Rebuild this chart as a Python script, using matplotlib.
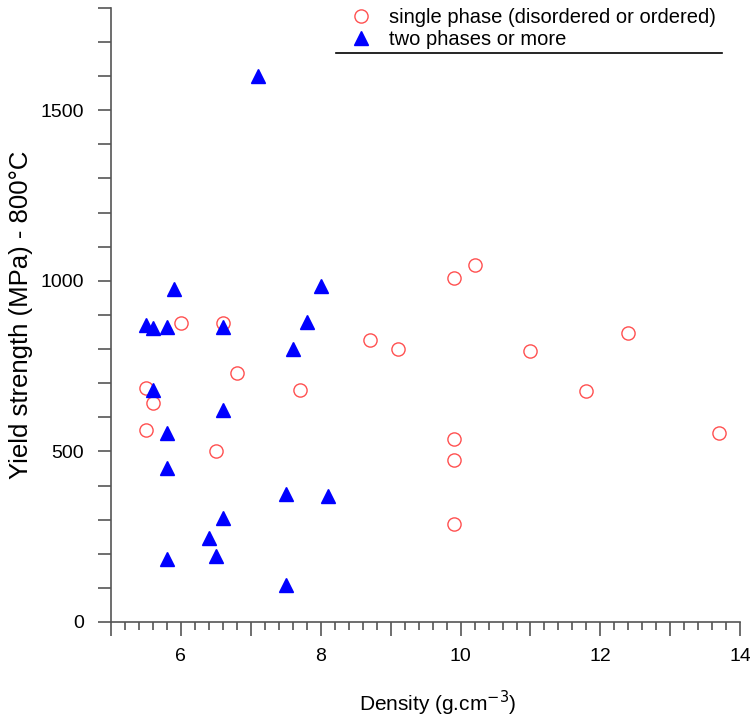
import numpy as np
import matplotlib
matplotlib.use("Agg")
from matplotlib import pyplot as plt
from matplotlib.lines import Line2D
from matplotlib.ticker import MultipleLocator, FuncFormatter

plt.rcParams['font.family'] = ['Liberation Sans', 'DejaVu Sans']

# single phase alloys (open red circles)
single_density = [6.0, 6.6, 6.8, 5.5, 7.7, 5.6, 5.5, 6.5, 10.2, 9.9, 12.4, 8.7,
                  9.1, 11.0, 11.8, 13.7, 9.9, 9.9, 9.9]
single_yield = [877, 877, 730, 687, 680, 641, 562, 500, 1045, 1008, 848, 826,
                799, 793, 676, 554, 536, 476, 286]

# two phases or more (filled blue triangles)
multi_density = [7.1, 5.9, 8.0, 5.5, 5.6, 5.8, 6.6, 7.8, 7.6, 5.6, 6.6, 5.8,
                 5.8, 7.5, 8.1, 6.6, 6.4, 6.5, 5.8, 7.5]
multi_yield = [1600, 975, 985, 870, 862, 865, 865, 880, 800, 680, 620, 555,
               450, 375, 368, 305, 245, 192, 185, 108]

fig = plt.figure(figsize=(7.5, 7.17), dpi=100)
ax = fig.add_axes([0.148, 0.1325, 0.839, 0.8565])

ax.plot(single_density, single_yield, linestyle="none", marker="o", markersize=9.5,
        markerfacecolor="none", markeredgecolor="#ff5050", markeredgewidth=1.0,
        label="single phase (disordered or ordered)")
ax.plot(multi_density, multi_yield, linestyle="none", marker="^", markersize=10.5,
        color="#0000ff", label="two phases or more")

ax.set_xlim(5, 14)
ax.set_ylim(0, 1800)

for side in ("top", "right"):
    ax.spines[side].set_visible(False)
for side in ("left", "bottom"):
    ax.spines[side].set_color("#555555")
    ax.spines[side].set_linewidth(1.2)

ax.xaxis.set_major_locator(MultipleLocator(1))
ax.xaxis.set_minor_locator(MultipleLocator(0.2))
ax.xaxis.set_major_formatter(FuncFormatter(lambda v, p: f"{v:.0f}" if int(round(v)) % 2 == 0 and v > 5.5 else ""))
ax.yaxis.set_major_locator(MultipleLocator(100))
ax.yaxis.set_major_formatter(FuncFormatter(lambda v, p: f"{v:.0f}" if int(round(v)) % 500 == 0 else ""))

ax.tick_params(axis="x", which="major", direction="out", length=10, width=1.2,
               color="#555555", labelsize=14, pad=9)
ax.tick_params(axis="x", which="minor", direction="out", length=6, width=1.2, color="#555555")
ax.tick_params(axis="y", which="major", direction="out", length=9.5, width=1.2,
               color="#555555", labelsize=14, pad=10)

ax.set_xlabel("Density (g.cm$^{-3}$)", fontsize=15)
ax.xaxis.set_label_coords(0.52, -0.108)
ax.set_ylabel("Yield strength (MPa) - 800°C", fontsize=18.5, labelpad=5)

leg = ax.legend(loc="upper left", bbox_to_anchor=(0.468, 0.989), bbox_transform=fig.transFigure,
                frameon=False, fontsize=14.5, handletextpad=0.9, labelspacing=0.17,
                handlelength=1.0, borderaxespad=0, borderpad=0)

fig.add_artist(Line2D([0.448, 0.962], [0.926, 0.926], transform=fig.transFigure,
                      color="black", linewidth=1.2))

fig.savefig("out.png", dpi=100)
